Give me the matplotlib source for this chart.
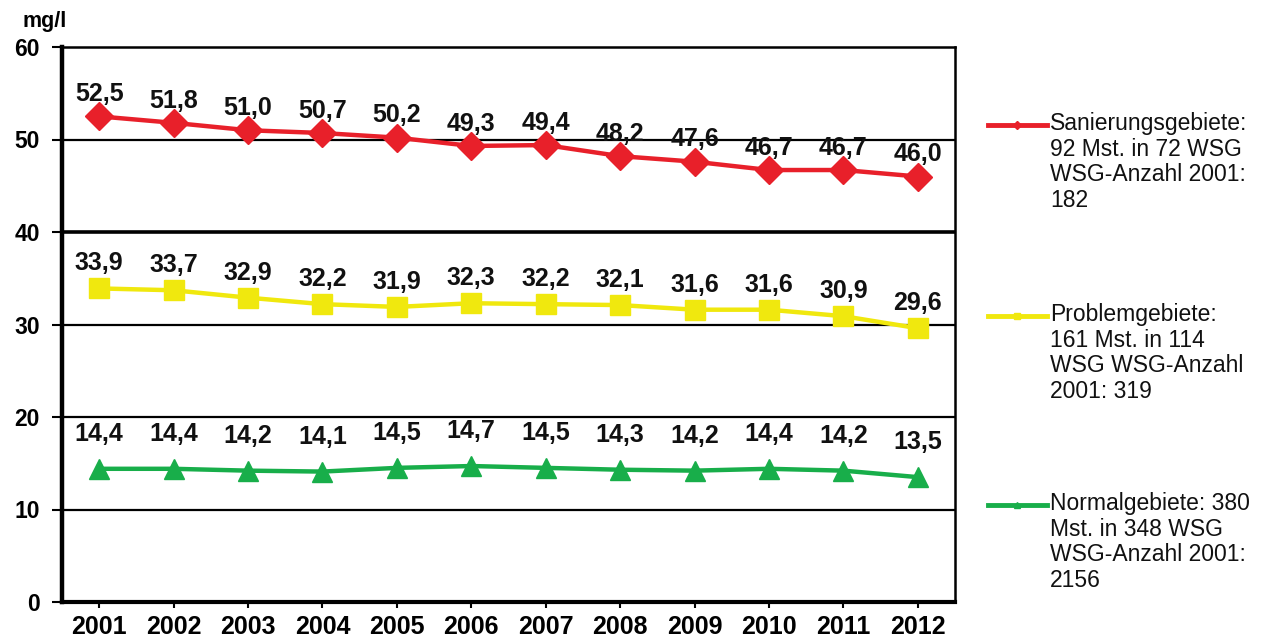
import matplotlib
matplotlib.use("Agg")
import matplotlib.pyplot as plt
from matplotlib.lines import Line2D

plt.rcParams['font.family'] = ['Liberation Sans', 'DejaVu Sans']

years = ["2001", "2002", "2003", "2004", "2005", "2006", "2007", "2008", "2009", "2010", "2011", "2012"]
sanierung = [52.5, 51.8, 51.0, 50.7, 50.2, 49.3, 49.4, 48.2, 47.6, 46.7, 46.7, 46.0]
problem = [33.9, 33.7, 32.9, 32.2, 31.9, 32.3, 32.2, 32.1, 31.6, 31.6, 30.9, 29.6]
normal = [14.4, 14.4, 14.2, 14.1, 14.5, 14.7, 14.5, 14.3, 14.2, 14.4, 14.2, 13.5]
labels = [
    "Sanierungsgebiete:\n92 Mst. in 72 WSG\nWSG-Anzahl 2001:\n182",
    "Problemgebiete:\n161 Mst. in 114\nWSG WSG-Anzahl\n2001: 319",
    "Normalgebiete: 380\nMst. in 348 WSG\nWSG-Anzahl 2001:\n2156",
]
yticks = [0, 10, 20, 30, 40, 50, 60]

red = "#E8202A"
yellow = "#F0E80E"
green = "#18AE4A"

W, H = 1265, 640
fig = plt.figure(figsize=(W / 100, H / 100), dpi=100)
ax = fig.add_axes([62 / W, 1 - 602 / H, (955 - 62) / W, (602 - 47) / H])

x = list(range(len(years)))
series = [
    (sanierung, red, "D", 14, 16),
    (problem, yellow, "s", 14.5, 18),
    (normal, green, "^", 15, 25),
]
for vals, col, mk, ms, off in series:
    ax.plot(x, vals, color=col, lw=3.2, marker=mk, markersize=ms,
            markerfacecolor=col, markeredgecolor=col, zorder=3)
    for xi, v in zip(x, vals):
        ax.annotate(f"{v:.1f}".replace(".", ","), (xi, v), xytext=(0, off),
                    textcoords="offset points", ha="center", va="center",
                    fontsize=18, fontweight="bold", color="#111111", zorder=4)

ax.set_xlim(-0.5, len(years) - 0.5)
ax.set_ylim(0, 60)
ax.set_xticks(x)
ax.set_xticklabels(years, fontsize=18, fontweight="bold")
ax.set_yticks(yticks)
ax.set_yticklabels([str(t) for t in yticks], fontsize=16.5, fontweight="bold")
ax.tick_params(axis="y", direction="out", length=7, width=1.5, pad=9)
ax.tick_params(axis="x", direction="out", length=4, width=1.5, pad=5)

for yv in yticks[1:-1]:
    ax.axhline(yv, color="black", lw=2.6 if yv == 40 else 1.6, zorder=1)

ax.spines["left"].set_linewidth(3.2)
ax.spines["bottom"].set_linewidth(3.0)
ax.spines["top"].set_linewidth(1.8)
ax.spines["right"].set_linewidth(1.8)

fig.text(22 / W, 1 - 22 / H, "mg/l", fontsize=15.5, fontweight="bold",
         ha="left", va="center")

# legend keys
key_y = [125, 316, 505]
cols = [red, yellow, green]
mks = ["D", "s", "^"]
for ky, col, mk, lab in zip(key_y, cols, mks, labels):
    yy = 1 - ky / H
    fig.add_artist(Line2D([988 / W, 1047 / W], [yy, yy], color=col, lw=3.5,
                          transform=fig.transFigure))
    fig.add_artist(Line2D([1017 / W], [yy], color=col, marker=mk, markersize=4,
                          transform=fig.transFigure))
    fig.text(1050 / W, yy + 13 / H, lab, fontsize=16.5, ha="left", va="top",
             linespacing=1.15, color="#111111")

fig.savefig("out.png", dpi=100)
